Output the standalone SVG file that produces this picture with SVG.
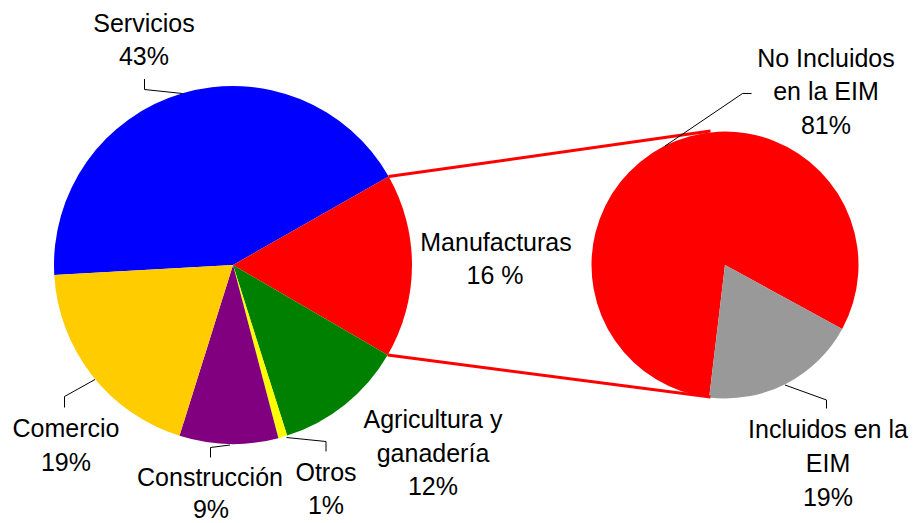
<svg xmlns="http://www.w3.org/2000/svg" width="916" height="523" viewBox="0 0 916 523">
<style>
text{font-family:"Liberation Sans",Arial,sans-serif;font-size:25px;fill:#000;text-anchor:middle}
.lead{fill:none;stroke:#000;stroke-width:1}
.zoom{fill:none;stroke:#FF0000;stroke-width:3}
</style>
<rect width="916" height="523" fill="#fff"/>
<g id="servicios">
<path d="M233,265 L54.28,274.99 A179,179 0 0 1 388.64,176.58 Z" fill="#0000FF"/>
<text x="144" y="32">Servicios</text>
<text x="144" y="65">43%</text>
</g>
<g id="manufacturas">
<path d="M233,265 L388.64,176.58 A179,179 0 0 1 387.70,355.04 Z" fill="#FF0000"/>
<text x="496" y="251">Manufacturas</text>
<text x="495" y="284">16 %</text>
</g>
<g id="agricultura">
<path d="M233,265 L387.70,355.04 A179,179 0 0 1 287.12,435.62 Z" fill="#008000"/>
<text x="433" y="428">Agricultura y</text>
<text x="433" y="461.5">ganadería</text>
<text x="433" y="495">12%</text>
</g>
<g id="otros">
<path d="M233,265 L287.12,435.62 A179,179 0 0 1 278.42,438.14 Z" fill="#FFFF00"/>
<text x="326" y="480.5">Otros</text>
<text x="326" y="514">1%</text>
</g>
<g id="construccion">
<path d="M233,265 L278.42,438.14 A179,179 0 0 1 179.47,435.81 Z" fill="#800080"/>
<text x="210" y="486">Construcción</text>
<text x="211" y="517.5">9%</text>
</g>
<g id="comercio">
<path d="M233,265 L179.47,435.81 A179,179 0 0 1 54.28,274.99 Z" fill="#FFCC00"/>
<text x="66" y="436.5">Comercio</text>
<text x="66" y="470.5">19%</text>
</g>
<g id="no-incluidos">
<path d="M725,265 L709.19,397.56 A133.5,133.5 0 1 1 842.21,328.90 Z" fill="#FF0000"/>
<text x="826" y="66.5">No Incluidos</text>
<text x="826" y="100">en la EIM</text>
<text x="826" y="134">81%</text>
</g>
<g id="incluidos">
<path d="M725,265 L842.21,328.90 A133.5,133.5 0 0 1 709.19,397.56 Z" fill="#999999"/>
<text x="828" y="437.5">Incluidos en la</text>
<text x="828" y="471.5">EIM</text>
<text x="828" y="505.5">19%</text>
</g>
<g id="connectors">
<path class="zoom" d="M388.6,176.6 L710.5,131"/>
<path class="zoom" d="M387.7,355 L710.5,397"/>
<path class="lead" d="M144.5,79 V89.5 L182.5,93.5"/>
<path class="lead" d="M95,379.5 L64.5,396.5 V407.5"/>
<path class="lead" d="M230,445 L210.5,447.5 V457.5"/>
<path class="lead" d="M286.5,437.5 L326,441.5 V451.5"/>
<path class="lead" d="M751.5,93.5 H742.5 L665,146"/>
<path class="lead" d="M785,385 L826.5,400 V408.5"/>
</g>
</svg>
